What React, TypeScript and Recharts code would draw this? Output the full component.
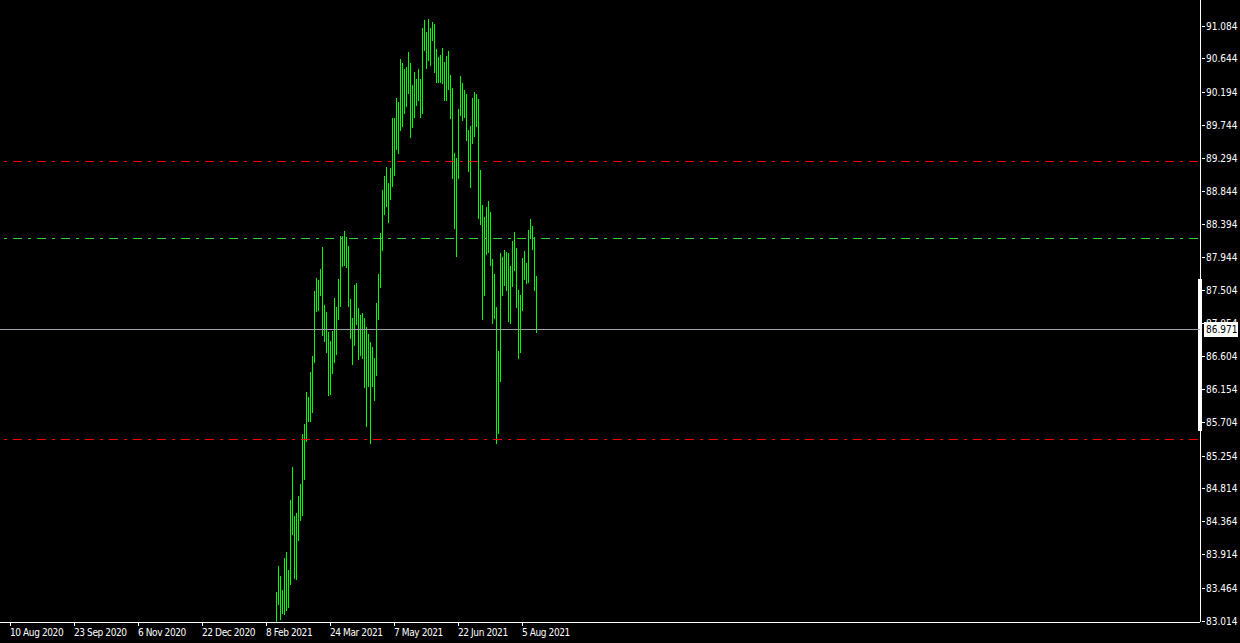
import React from "react";
import {
  BarChart,
  Bar,
  XAxis,
  YAxis,
  ReferenceLine,
  ReferenceArea,
} from "recharts";

// bar slots across the visible window, first slot holding a bar
const totalSlots = 600;
const firstBarSlot = 138;

const highs = [
  83.404, 83.756, 83.621, 83.431, 83.865, 83.946, 83.702, 84.652, 85.1, 84.435,
  84.476, 84.706, 84.869, 85.548, 85.683, 86.118, 86.05, 86.389, 86.606, 87.488,
  87.665, 87.637, 87.787, 88.085, 87.298, 87.203, 86.932, 86.81, 86.945, 87.393,
  87.271, 87.651, 88.234, 88.234, 88.302, 88.221, 88.099, 87.38, 87.122, 87.57,
  87.597, 87.257, 87.163, 87.19, 87.122, 86.999, 86.905, 86.796, 86.728, 86.579,
  87.325, 87.719, 88.275, 88.859, 89.049, 89.171, 88.954, 89.157, 89.836, 89.836,
  90.107, 90.053, 90.636, 90.582, 90.501, 90.528, 90.731, 90.582, 90.284, 90.46,
  90.365, 90.501, 90.365, 91.057, 91.166, 91.003, 91.179, 91.057, 91.139, 91.111,
  90.772, 90.664, 90.691, 90.786, 90.596, 90.677, 90.745, 90.419, 90.243, 89.361,
  89.293, 89.958, 90.406, 90.311, 90.216, 90.161, 89.673, 89.727, 90.107, 90.189,
  90.161, 90.094, 89.13, 88.655, 88.492, 88.628, 88.709, 88.56, 87.922, 87.719,
  87.271, 86.674, 88.004, 87.949, 88.045, 88.017, 88.004, 87.827, 88.167, 88.289,
  88.072, 87.502, 87.434, 87.936, 88.031, 87.868, 88.316, 88.465, 88.37, 88.221,
  87.692,
];

const lows = [
  83.0, 83.227, 83.024, 83.105, 83.091, 83.146, 83.186, 83.498, 84.177, 83.58,
  83.566, 84.096, 84.367, 84.435, 84.923, 85.439, 85.71, 85.71, 85.833, 86.511,
  87.203, 87.217, 87.42, 86.877, 86.796, 86.647, 86.063, 86.077, 86.362, 86.511,
  86.62, 87.095, 87.271, 87.814, 87.827, 87.8, 87.271, 86.837, 86.484, 86.742,
  87.027, 86.552, 86.606, 86.565, 86.172, 85.643, 86.185, 85.412, 86.185, 85.995,
  86.335, 87.095, 87.529, 88.031, 88.521, 88.628, 88.411, 88.723, 88.899, 89.049,
  89.402, 89.347, 89.66, 89.714, 89.89, 89.985, 90.161, 89.564, 89.7, 89.836,
  90.003, 90.066, 89.836, 89.89, 90.745, 90.501, 90.609, 90.541, 90.881, 90.446,
  90.311, 90.311, 90.311, 90.297, 90.066, 90.066, 90.216, 89.822, 89.008, 88.329,
  87.949, 89.008, 89.863, 89.795, 89.836, 89.524, 89.103, 88.886, 89.483, 89.578,
  89.714, 88.465, 88.384, 87.095, 87.42, 87.977, 88.004, 87.827, 87.04, 87.108,
  85.412, 85.548, 86.253, 87.42, 87.556, 87.488, 87.067, 87.04, 87.542, 87.759,
  87.257, 86.565, 86.647, 87.217, 87.637, 87.583, 87.597, 88.194, 88.045, 87.488,
  86.918,
];

const dateLabels = [
  "10 Aug 2020",
  "23 Sep 2020",
  "6 Nov 2020",
  "22 Dec 2020",
  "8 Feb 2021",
  "24 Mar 2021",
  "7 May 2021",
  "22 Jun 2021",
  "5 Aug 2021",
];
const dateTickSlots = [5, 37, 69, 101, 133, 165, 197, 229, 261];

const priceTicks = [
  91.084, 90.644, 90.194, 89.744, 89.294, 88.844, 88.394, 87.944, 87.504,
  87.054, 86.604, 86.154, 85.704, 85.254, 84.814, 84.364, 83.914, 83.464,
  83.014,
];
const priceDomain = [82.996, 91.437];

const bidPrice = 86.971;
const redLevels = [89.245, 85.473];
const greenLevel = 88.2;
const rangeMarker = [85.579, 87.647];

const data = Array.from({ length: totalSlots }, (_, i) => {
  const k = i - firstBarSlot;
  const has = k >= 0 && k < highs.length;
  return { i, range: has ? [lows[k], highs[k]] : null };
});

const FONT = "'Liberation Sans Narrow', 'DejaVu Sans Condensed', sans-serif";

const BarLine = (props: any) => {
  const { x, y, height, payload } = props;
  if (!payload || !payload.range) return null;
  let col = Math.floor(x);
  if (col % 2 === 1) col -= 1; // MT4 draws on the even pixel of each slot
  const top = Math.round(Math.min(y, y + height));
  const h = Math.max(1, Math.round(Math.abs(height)));
  return <rect x={col} y={top} width={1} height={h} fill="#00ff00" />;
};

const XTick = ({ x, y, payload }: any) => {
  const k = dateTickSlots.indexOf(payload.value);
  const px = Math.round(x) - 1;
  return (
    <g>
      <line x1={px + 0.5} x2={px + 0.5} y1={y + 1} y2={y + 4} stroke="#fff" />
      <text
        x={px}
        y={y + 14}
        fill="#fff"
        fontSize={10}
        letterSpacing={-0.4}
        fontFamily={FONT}
      >
        {dateLabels[k]}
      </text>
    </g>
  );
};

const YTick = ({ x, y, payload }: any) => {
  const v = payload.value;
  const ry = Math.round(y);
  if (v === bidPrice) {
    return (
      <g>
        <rect x={x + 4} y={ry - 7} width={34} height={15} fill="#fff" />
        <text x={x + 6} y={ry + 4} fill="#000" fontSize={10} fontFamily={FONT}>
          {v.toFixed(3)}
        </text>
      </g>
    );
  }
  return (
    <g>
      <line x1={x + 2} x2={x + 5} y1={ry + 0.5} y2={ry + 0.5} stroke="#fff" />
      <text x={x + 6} y={ry + 4} fill="#fff" fontSize={10} fontFamily={FONT}>
        {v.toFixed(3)}
      </text>
    </g>
  );
};

const MarkerShape = (props: any) => {
  const { x, y, width, height } = props;
  return (
    <rect
      x={Math.round(x + width) - 2}
      y={Math.round(y)}
      width={4}
      height={Math.round(height)}
      fill="#fff"
    />
  );
};

export default function App() {
  return (
    <div
      style={{
        position: "absolute",
        left: 0,
        top: 0,
        width: 1240,
        height: 643,
        background: "#000",
      }}
    >
      <BarChart
        width={1240}
        height={643}
        data={data}
        margin={{ top: 0, right: 0, left: 0, bottom: 0 }}
        barCategoryGap={0}
      >
        <XAxis
          dataKey="i"
          type="category"
          height={21}
          ticks={dateTickSlots}
          interval={0}
          tickSize={0}
          tickMargin={0}
          tick={<XTick />}
          axisLine={{ stroke: "#fff", shapeRendering: "crispEdges" }}
        />
        <YAxis
          orientation="right"
          width={40}
          type="number"
          domain={priceDomain}
          allowDataOverflow
          ticks={[...priceTicks, bidPrice]}
          interval={0}
          tickSize={0}
          tickMargin={0}
          tick={<YTick />}
          axisLine={{ stroke: "#fff", shapeRendering: "crispEdges" }}
        />
        {redLevels.map((lv) => (
          <ReferenceLine
            key={lv}
            y={lv}
            stroke="#ff0000"
            strokeDasharray="9 6 3 6"
            strokeDashoffset={22}
            shapeRendering="crispEdges"
          />
        ))}
        <ReferenceLine
          y={greenLevel}
          stroke="#32cd32"
          strokeDasharray="9 6 3 6"
          strokeDashoffset={22}
          shapeRendering="crispEdges"
        />
        <ReferenceLine
          y={bidPrice}
          stroke="#a0a0a8"
          shapeRendering="crispEdges"
        />
        <ReferenceArea
          x1={totalSlots - 1}
          x2={totalSlots - 1}
          y1={rangeMarker[0]}
          y2={rangeMarker[1]}
          ifOverflow="visible"
          shape={<MarkerShape />}
        />
        <Bar
          dataKey="range"
          barSize={1}
          isAnimationActive={false}
          shape={<BarLine />}
        />
      </BarChart>
    </div>
  );
}
